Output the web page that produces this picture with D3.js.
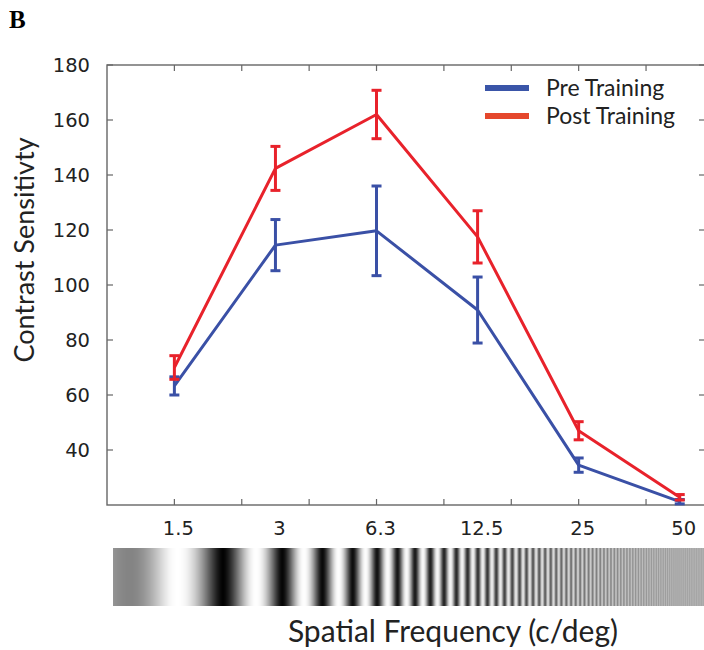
<!DOCTYPE html>
<html>
<head>
<meta charset="utf-8">
<script src="https://cdn.jsdelivr.net/npm/d3@7"></script>
<style>
  body { margin: 0; background: #fff; }
  svg { display: block; }
</style>
</head>
<body>
<svg id="chart" width="704" height="650"></svg>
<script>
// data
const freqLabels = ["1.5", "3", "6.3", "12.5", "25", "50"];
const preMean = [63.3, 114.5, 119.7, 90.9, 34.5, 21.2];
const preErr = [3.3, 9.3, 16.3, 12, 2.6, 0.8];
const postMean = [70, 142.4, 162, 117.5, 47, 22.8];
const postErr = [4.3, 8, 8.8, 9.5, 3.3, 1];
const yTicks = [40, 60, 80, 100, 120, 140, 160, 180];
const seriesNames = ["Pre Training", "Post Training"];

const svg = d3.select("#chart");
const sans = "'DejaVu Sans', Arial, sans-serif";
const humanist = "Lato, 'Open Sans', sans-serif";

// frame of the plot
const plotLeft = 107, plotRight = 705, plotTop = 65, plotBottom = 505;

// x is the position of the frequency in the list, ticks every 2/3 step
const x = d3.scaleLinear().domain([-2 / 3, 5.25]).range([plotLeft, plotRight]);
const y = d3.scaleLinear().domain([20, 180]).range([plotBottom, plotTop]);

const blue = "#3a50a6";
const red = "#e8222b";

// panel letter
svg.append("text")
    .attr("x", 9).attr("y", 28)
    .attr("font-family", "'Liberation Serif', 'Times New Roman', serif")
    .attr("font-weight", "bold")
    .attr("font-size", "25px")
    .text("B");

// box
svg.append("rect")
    .attr("x", plotLeft).attr("y", plotTop)
    .attr("width", plotRight - plotLeft).attr("height", plotBottom - plotTop)
    .attr("fill", "none")
    .attr("stroke", "#666")
    .attr("stroke-width", 1.4);

// inward ticks on top and bottom
const xTickIdx = d3.range(8).map(i => i * 2 / 3);
svg.append("g").selectAll("line")
    .data(xTickIdx).enter().append("line")
    .attr("x1", d => x(d)).attr("x2", d => x(d))
    .attr("y1", plotTop).attr("y2", plotTop + 6)
    .attr("stroke", "#666").attr("stroke-width", 1.2);
svg.append("g").selectAll("line")
    .data(xTickIdx).enter().append("line")
    .attr("x1", d => x(d)).attr("x2", d => x(d))
    .attr("y1", plotBottom).attr("y2", plotBottom - 6)
    .attr("stroke", "#666").attr("stroke-width", 1.2);

// inward ticks on left and right
svg.append("g").selectAll("line")
    .data(yTicks).enter().append("line")
    .attr("x1", plotLeft).attr("x2", plotLeft + 6)
    .attr("y1", d => y(d)).attr("y2", d => y(d))
    .attr("stroke", "#666").attr("stroke-width", 1.2);
svg.append("g").selectAll("line")
    .data(yTicks).enter().append("line")
    .attr("x1", plotRight).attr("x2", plotRight - 6)
    .attr("y1", d => y(d)).attr("y2", d => y(d))
    .attr("stroke", "#666").attr("stroke-width", 1.2);

// y tick labels
svg.append("g").selectAll("text")
    .data(yTicks).enter().append("text")
    .attr("x", 90)
    .attr("y", d => y(d))
    .attr("dy", "0.36em")
    .attr("text-anchor", "end")
    .attr("font-family", sans)
    .attr("font-size", "19.5px")
    .attr("fill", "#222")
    .text(d => d);

// x tick labels
svg.append("g").selectAll("text")
    .data(freqLabels).enter().append("text")
    .attr("x", (d, i) => x(i) + 4)
    .attr("y", 535)
    .attr("text-anchor", "middle")
    .attr("font-family", sans)
    .attr("font-size", "19.5px")
    .attr("fill", "#222")
    .text(d => d);

// y axis title
svg.append("text")
    .attr("transform", "translate(34,250) rotate(-90)")
    .attr("text-anchor", "middle")
    .attr("font-family", humanist)
    .attr("font-size", "27px")
    .attr("fill", "#222")
    .text("Contrast Sensitivty");

// series
const series = [
    { name: seriesNames[0], mean: preMean, err: preErr, color: blue },
    { name: seriesNames[1], mean: postMean, err: postErr, color: red }
];

const line = d3.line()
    .x((d, i) => x(i))
    .y(d => y(d));

series.forEach(s => {
    const g = svg.append("g");
    g.append("path")
        .datum(s.mean)
        .attr("d", line)
        .attr("fill", "none")
        .attr("stroke", s.color)
        .attr("stroke-width", 3)
        .attr("stroke-linejoin", "round");

    const bars = g.selectAll("g.eb")
        .data(s.mean.map((m, i) => ({ i: i, m: m, e: s.err[i] })))
        .enter().append("g");
    bars.append("line")
        .attr("x1", d => x(d.i)).attr("x2", d => x(d.i))
        .attr("y1", d => y(d.m - d.e)).attr("y2", d => y(d.m + d.e))
        .attr("stroke", s.color).attr("stroke-width", 3);
    bars.selectAll("line.cap")
        .data(d => [d.m - d.e, d.m + d.e].map(v => ({ i: d.i, v: v })))
        .enter().append("line")
        .attr("x1", d => x(d.i) - 5).attr("x2", d => x(d.i) + 5)
        .attr("y1", d => y(d.v)).attr("y2", d => y(d.v))
        .attr("stroke", s.color).attr("stroke-width", 3);
});

// legend
const legendColors = ["#3a55a8", "#e5472c"];
const legend = svg.append("g").selectAll("g")
    .data(seriesNames).enter().append("g")
    .attr("transform", (d, i) => `translate(485,${88 + i * 28})`);
legend.append("line")
    .attr("x1", 0).attr("x2", 44)
    .attr("stroke", (d, i) => legendColors[i])
    .attr("stroke-width", 6);
legend.append("text")
    .attr("x", 61).attr("y", 7.5)
    .attr("font-family", humanist)
    .attr("font-size", "23px")
    .attr("fill", "#222")
    .text(d => d);

// grating strip under the axis, drawn on a canvas then put in the svg
const gx = 113, gy = 548, gw = 704 - 113, gh = 58;
const canvas = document.createElement("canvas");
canvas.width = gw; canvas.height = gh;
const ctx = canvas.getContext("2d");
const img = ctx.createImageData(gw, gh);
const k = 0.008, p0 = 76, xDark = 223 - gx;
function phase(px) {
    return 2 * Math.PI / (p0 * k) * (Math.exp(k * (px - xDark)) - 1) + Math.PI;
}
for (let c = 0; c < gw; c++) {
    let sum = 0;
    const n = 16;
    for (let s = 0; s < n; s++) sum += Math.cos(phase(c + (s + 0.5) / n));
    const period = p0 * Math.exp(-k * (c - xDark));
    let con = period * period / (period * period + 25);
    con *= Math.min(1, 0.2 + c / 70);
    const mean = 0.5 + 0.1 * (1 - con);
    let v = Math.max(0, Math.min(1, mean + 0.5 * con * sum / n));
    v = Math.pow(v, 0.75);
    const gray = Math.round(v * 255);
    for (let r = 0; r < gh; r++) {
        const o = (r * gw + c) * 4;
        img.data[o] = gray; img.data[o + 1] = gray; img.data[o + 2] = gray; img.data[o + 3] = 255;
    }
}
ctx.putImageData(img, 0, 0);
svg.append("image")
    .attr("x", gx).attr("y", gy)
    .attr("width", gw).attr("height", gh)
    .attr("href", canvas.toDataURL());

// x axis title
svg.append("text")
    .attr("x", 453).attr("y", 642)
    .attr("text-anchor", "middle")
    .attr("font-family", humanist)
    .attr("font-size", "30px")
    .attr("fill", "#222")
    .text("Spatial Frequency (c/deg)");
</script>
</body>
</html>
